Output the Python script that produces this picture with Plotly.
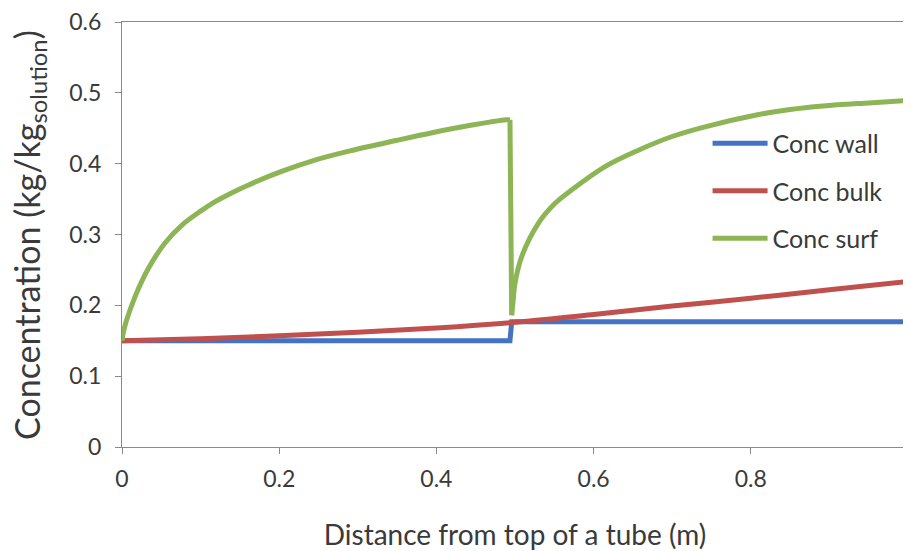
import plotly.graph_objects as go

# Data
wall_x = [0, 0.4936, 0.4958, 0.995]
wall_y = [0.150, 0.150, 0.177, 0.177]

bulk_x = [0, 0.1, 0.2, 0.3, 0.4, 0.5, 0.6, 0.7, 0.8, 0.9, 0.995]
bulk_y = [0.150, 0.153, 0.157, 0.162, 0.168, 0.176, 0.187, 0.199, 0.210, 0.222, 0.233]

# first rising branch (up to the peak just before x = 0.5)
surf1_x = [0, 0.002, 0.005, 0.0165, 0.0335, 0.0547, 0.076, 0.1, 0.118, 0.14, 0.161, 0.203,
           0.2455, 0.29, 0.35, 0.396, 0.44, 0.4894, 0.4936]
surf1_y = [0.150, 0.163, 0.176, 0.212, 0.252, 0.288, 0.313, 0.333, 0.346, 0.359, 0.370, 0.389,
           0.405, 0.418, 0.433, 0.444, 0.4535, 0.462, 0.462]
# second rising branch (after the drop)
surf2_x = [0.4958, 0.4975, 0.5, 0.5085, 0.5297, 0.551, 0.572, 0.6145, 0.657,
           0.699, 0.7417, 0.807, 0.85, 0.892, 0.95, 0.995]
surf2_y = [0.186, 0.205, 0.231, 0.2687, 0.3158, 0.344, 0.3628, 0.3958, 0.419,
           0.438, 0.452, 0.4687, 0.4765, 0.4815, 0.4858, 0.4888]

x_ticks = [0, 0.2, 0.4, 0.6, 0.8, 1]
x_tick_labels = ["0", "0.2", "0.4", "0.6", "0.8", "1"]
y_ticks = [0, 0.1, 0.2, 0.3, 0.4, 0.5, 0.6]
y_tick_labels = ["0", "0.1", "0.2", "0.3", "0.4", "0.5", "0.6"]
x_title = "Distance from top of a tube (m)"
y_title = "Concentration (kg/kg<sub>solution</sub>)"

FONT = "Lato"
TXT = "#3a3a3a"
GREEN = "#8DB555"

fig = go.Figure()
fig.add_trace(go.Scatter(x=wall_x, y=wall_y, mode="lines", name="Conc wall",
                         legendgroup="a", line=dict(color="#4472C4", width=5)))
fig.add_trace(go.Scatter(x=bulk_x, y=bulk_y, mode="lines", name="Conc bulk",
                         legendgroup="b", line=dict(color="#C0504D", width=5, shape="spline")))
fig.add_trace(go.Scatter(x=surf1_x, y=surf1_y, mode="lines", name="Conc surf",
                         legendgroup="c", line=dict(color=GREEN, width=5, shape="spline")))
fig.add_trace(go.Scatter(x=[surf1_x[-1], surf2_x[0]], y=[surf1_y[-1], surf2_y[0]],
                         mode="lines", name="Conc surf", legendgroup="c", showlegend=False,
                         line=dict(color=GREEN, width=5)))
fig.add_trace(go.Scatter(x=surf2_x, y=surf2_y, mode="lines", name="Conc surf",
                         legendgroup="c", showlegend=False,
                         line=dict(color=GREEN, width=5, shape="spline")))

# y-axis title as a rotated annotation so it can sit close to the left edge
fig.add_annotation(text=y_title, xref="paper", yref="paper", x=-0.119, y=0.5,
                   xanchor="center", yanchor="middle", textangle=-90, showarrow=False,
                   borderpad=0, font=dict(size=34, color=TXT, family=FONT))

# page body has an 8px margin, so the figure is shifted by (8, 8)
fig.update_layout(
    width=903, height=543,
    margin=dict(l=114, r=3, t=14, b=104),
    paper_bgcolor="white", plot_bgcolor="white",
    font=dict(family=FONT, color=TXT),
    showlegend=True,
    legend=dict(x=0.745, y=0.768, xanchor="left", yanchor="top",
                font=dict(size=25, color=TXT, family=FONT), itemwidth=55,
                bgcolor="rgba(0,0,0,0)", tracegroupgap=12),
    xaxis=dict(range=[0, 1], tickvals=x_ticks, ticktext=x_tick_labels,
               showgrid=False, zeroline=False, showline=True, linecolor="#8a8a8a",
               linewidth=1, mirror=True, ticks="outside", ticklen=6, tickcolor="#8a8a8a",
               automargin=False, ticklabeloverflow="allow", ticklabelstandoff=5,
               tickfont=dict(size=23, color=TXT, family=FONT),
               title=dict(text=x_title,
                          font=dict(size=28, color=TXT, family=FONT), standoff=38)),
    yaxis=dict(range=[0, 0.6], tickvals=y_ticks, ticktext=y_tick_labels,
               showgrid=False, zeroline=False, showline=True, linecolor="#8a8a8a",
               linewidth=1, mirror=True, ticks="outside", ticklen=6, tickcolor="#8a8a8a",
               automargin=False, ticklabeloverflow="allow", ticklabelstandoff=9,
               tickfont=dict(size=23, color=TXT, family=FONT)),
)

fig.write_html("out.html")
